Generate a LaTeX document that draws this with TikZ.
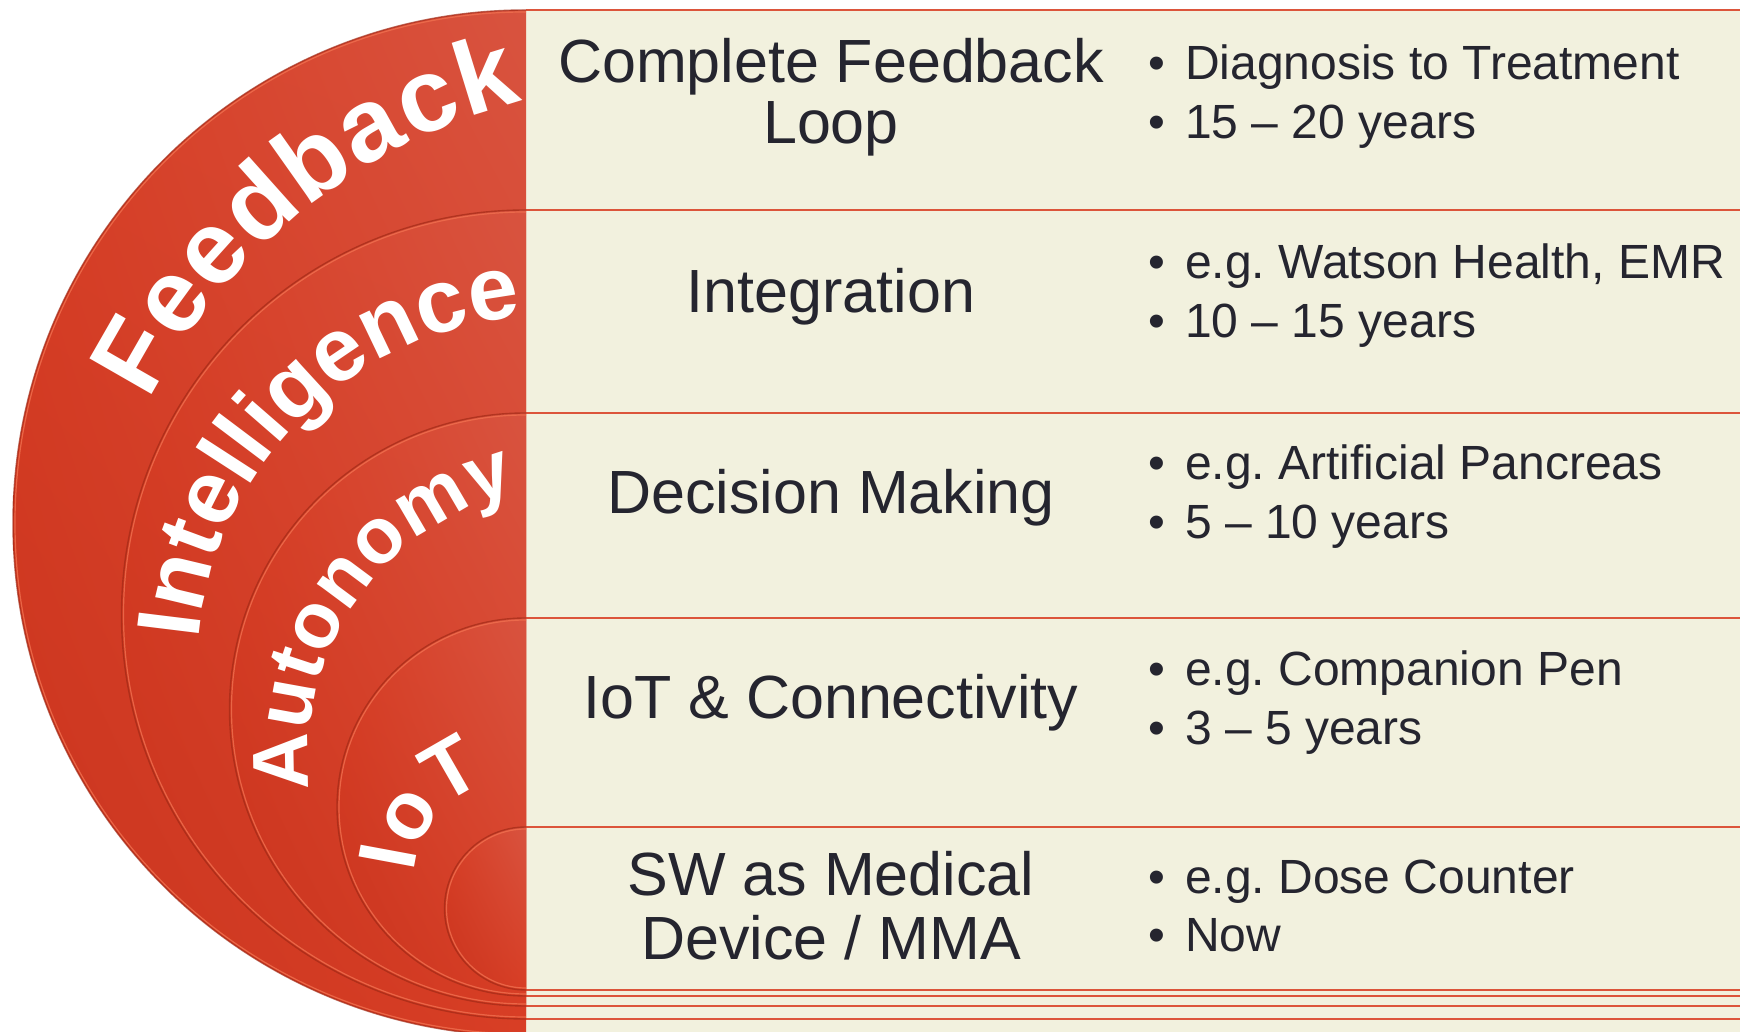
\documentclass[tikz,border=0pt]{standalone}
\usepackage{fontspec}
\setmainfont{Liberation Sans}
\usetikzlibrary{decorations.text,shadings}
\definecolor{cream}{HTML}{F2F1DE}
\definecolor{rline}{HTML}{DC553B}
\definecolor{txt}{HTML}{25252F}
\definecolor{redA}{HTML}{D83E25}
\definecolor{redL}{HTML}{D8533F}
\definecolor{redD}{HTML}{C9341E}
\definecolor{rimD}{HTML}{A22A16}
\definecolor{rimL}{HTML}{F0704F}
\newcommand{\titlefont}{\fontsize{61}{61}\selectfont}
\newcommand{\itemfont}{\fontsize{48}{48}\selectfont}
\newcommand{\blt}{\makebox[0pt][r]{•\hspace{20pt}}}
\newcommand{\arcfont}[1]{\fontsize{#1}{#1}\selectfont\bfseries\color{white}}
\frenchspacing
\begin{document}
\begin{tikzpicture}[x=1pt,y=1pt,
  disc/.style={upper right=redL, upper left=redA, lower left=redD, lower right=redA},
  rimdark/.style={draw=rimD, line width=1.4, opacity=0.7},
  rimlight/.style={draw=rimL, line width=1.2, opacity=0.8},
  sep/.style={draw=rline, line width=2.6},
  septhin/.style={draw=rline, line width=2.2},
  title/.style={anchor=base, text=txt, font=\titlefont, inner sep=0},
  item/.style={anchor=base west, text=txt, font=\itemfont, inner sep=0},
  arclabel/.style={decorate, decoration={text along path, text align={fit to path}, text={#1}}}
]
\useasboundingbox (0,0) rectangle (1740,1032);
\clip (0,0) rectangle (1740,1032);
\fill[white] (0,0) rectangle (1740,1032);
\fill[cream] (526,0) rectangle (1740,1022);

% table lines
\draw[sep] (526,1022) -- (1740,1022);
\draw[sep] (526,822) -- (1740,822);
\draw[sep] (526,619) -- (1740,619);
\draw[sep] (526,414) -- (1740,414);
\draw[sep] (526,205) -- (1740,205);
\draw[septhin] (526,42) -- (1740,42);
\draw[septhin] (526,36) -- (1740,36);
\draw[septhin] (526,26) -- (1740,26);
\draw[septhin] (526,13) -- (1740,13);

% nested half discs
\foreach \cy/\r in {509/513, 417.5/404.5, 322.5/296.5, 225/189, 123.5/81.5}{
  \shade[disc] (526,\cy+\r) arc[start angle=90, end angle=270, radius=\r] -- cycle;
  \draw[rimdark] (526,\cy+\r) arc[start angle=90, end angle=270, radius=\r];
  \draw[rimlight] (526,\cy+\r-2) arc[start angle=90, end angle=270, radius=\r-2];
}

% curved labels
\path[arclabel={|\arcfont{104}|Feedback}]
  ([shift={(153.3:577)}]665,372) arc[start angle=153.3, end angle=104.3, radius=577];
\path[arclabel={|\arcfont{90}|Intelligence}]
  ([shift={(175:356)}]553,361) arc[start angle=175, end angle=95, radius=356];
\path[arclabel={|\arcfont{79}|Autonomy}]
  ([shift={(187:272)}]580,275.5) arc[start angle=187, end angle=103.5, radius=272];
\path[arclabel={|\arcfont{82}|IoT}]
  ([shift={(176:100)}]514,152) arc[start angle=176, end angle=112, radius=100];

% titles
\node[title] (t1a) at (831,949) {Complete Feedback};
\node[title] (t1b) at (831,888) {Loop};
\node[title] (t2) at (831,719) {Integration};
\node[title] (t3) at (831,518) {Decision Making};
\node[title] (t4) at (831,313) {IoT \& Connectivity};
\node[title] (t5a) at (831,136) {SW as Medical};
\node[title] (t5b) at (831,72) {Device / MMA};

% bullet items
\node[item] (b1a) at (1185,952) {\blt Diagnosis to Treatment};
\node[item] (b1b) at (1185,893) {\blt 15 – 20 years};
\node[item] (b2a) at (1185,753) {\blt e.g. Watson Health, EMR};
\node[item] (b2b) at (1185,694) {\blt 10 – 15 years};
\node[item] (b3a) at (1185,552) {\blt e.g. Artificial Pancreas};
\node[item] (b3b) at (1185,493) {\blt 5 – 10 years};
\node[item] (b4a) at (1185,346) {\blt e.g. Companion Pen};
\node[item] (b4b) at (1185,287) {\blt 3 – 5 years};
\node[item] (b5a) at (1185,138) {\blt e.g. Dose Counter};
\node[item] (b5b) at (1185,80) {\blt Now};
\end{tikzpicture}
\end{document}
